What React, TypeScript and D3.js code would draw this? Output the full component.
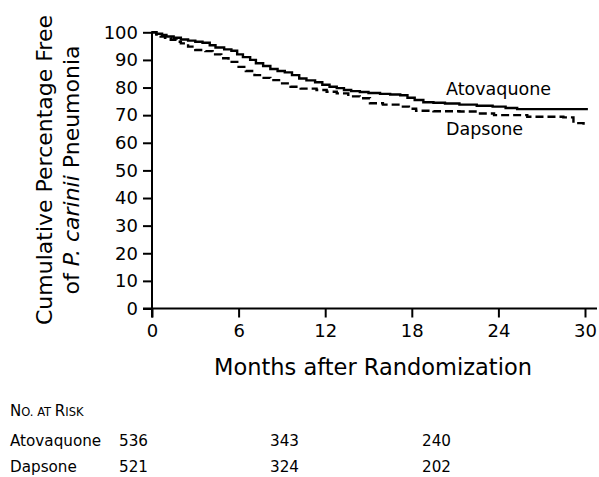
import React, { useEffect, useRef } from "react";
import * as d3 from "d3";

const atovMonths = [0, 0.3, 0.7, 1.0, 1.5, 2.0, 2.5, 3.0, 3.5, 4.0, 4.4, 5.0, 5.5, 5.9, 6.3, 6.8, 7.2, 7.7, 8.2, 8.7, 9.2, 9.7, 10.2, 10.7, 11.3, 11.8, 12.3, 12.8, 13.3, 13.8, 14.4, 15.0, 15.8, 16.5, 17.2, 17.7, 18.2, 18.8, 19.5, 20.3, 21.3, 22.5, 23.6, 24.5, 25.3, 30.2];
const atovValues = [100, 99.5, 99.0, 98.5, 98.0, 97.4, 97.0, 96.6, 96.2, 95.3, 94.5, 93.8, 93.3, 92.0, 91.0, 90.0, 88.8, 87.8, 86.7, 86.0, 85.5, 84.5, 83.3, 82.6, 81.9, 81.0, 80.3, 79.8, 79.1, 78.7, 78.4, 78.0, 77.7, 77.5, 77.2, 76.3, 75.5, 74.7, 74.5, 74.2, 73.8, 73.4, 73.1, 72.6, 72.2, 72.2];

const dapMonths = [0, 0.3, 0.6, 0.9, 1.3, 1.7, 2.0, 2.5, 3.0, 3.7, 4.2, 4.8, 5.3, 6.0, 6.5, 7.1, 7.6, 8.2, 8.9, 9.6, 10.3, 11.4, 12.1, 12.8, 13.6, 14.4, 15.1, 16.0, 17.2, 17.8, 18.3, 19.5, 21.3, 22.5, 23.7, 26.0, 28.5, 29.2, 29.9];
const dapValues = [100, 99.2, 98.5, 98.0, 97.3, 96.6, 96.0, 94.8, 93.6, 93.2, 92.0, 90.6, 89.3, 87.5, 86.0, 84.5, 83.5, 82.7, 81.5, 80.3, 79.6, 79.1, 78.5, 77.9, 76.8, 76.1, 74.3, 73.8, 73.1, 72.3, 71.6, 71.4, 71.3, 70.6, 70.0, 69.4, 69.2, 67.1, 66.4];

const xTicks = [0, 6, 12, 18, 24, 30];
const yTicks = [0, 10, 20, 30, 40, 50, 60, 70, 80, 90, 100];

const riskGroups = ["Atovaquone", "Dapsone"];
const riskAtov = [536, 343, 240];
const riskDap = [521, 324, 202];

const FONT = "'DejaVu Sans', sans-serif";

export default function App() {
  const ref = useRef<SVGSVGElement | null>(null);

  useEffect(() => {
    const svg = d3.select(ref.current);
    svg.selectAll("*").remove();

    const x = d3.scaleLinear().domain([0, 30]).range([152, 585]);
    const y = d3.scaleLinear().domain([0, 100]).range([308.5, 32.3]);

    // axes
    const gx = svg.append("g").attr("transform", `translate(0,${y(0)})`);
    gx.call(d3.axisBottom(x).tickValues(xTicks).tickSize(9).tickSizeOuter(0).tickPadding(7));
    gx.select(".domain").remove();
    gx.selectAll(".tick line").attr("stroke", "#000").attr("stroke-width", 2);
    gx.selectAll(".tick text").attr("font-family", FONT).attr("font-size", 18).attr("fill", "#000");

    const gy = svg.append("g").attr("transform", `translate(${x(0)},0)`);
    gy.call(d3.axisLeft(y).tickValues(yTicks).tickSize(9).tickSizeOuter(0).tickPadding(5));
    gy.select(".domain").remove();
    gy.selectAll(".tick line").attr("stroke", "#000").attr("stroke-width", 2);
    gy.selectAll(".tick text").attr("font-family", FONT).attr("font-size", 18).attr("fill", "#000");

    svg.append("line").attr("x1", x(0) - 9).attr("x2", 597).attr("y1", y(0)).attr("y2", y(0)).attr("stroke", "#000").attr("stroke-width", 2);
    svg.append("line").attr("x1", x(0)).attr("x2", x(0)).attr("y1", y(100) - 1).attr("y2", y(0) + 9).attr("stroke", "#000").attr("stroke-width", 2);

    const line = d3.line<[number, number]>().x((d) => x(d[0])).y((d) => y(d[1])).curve(d3.curveStepAfter);
    const atov: [number, number][] = atovMonths.map((m, i) => [m, atovValues[i]]);
    const dap: [number, number][] = dapMonths.map((m, i) => [m, dapValues[i]]);

    svg.append("path").attr("d", line(dap)).attr("fill", "none").attr("stroke", "#000").attr("stroke-width", 2.4).attr("stroke-dasharray", "8,4");
    svg.append("path").attr("d", line(atov)).attr("fill", "none").attr("stroke", "#000").attr("stroke-width", 2.4);

    // curve labels
    svg.append("text").attr("x", 446).attr("y", 95).attr("font-family", FONT).attr("font-size", 17.5).text("Atovaquone");
    svg.append("text").attr("x", 446).attr("y", 135).attr("font-family", FONT).attr("font-size", 17.5).text("Dapsone");

    // x title
    svg.append("text").attr("x", 373).attr("y", 375).attr("text-anchor", "middle").attr("font-family", FONT).attr("font-size", 22.5).text("Months after Randomization");

    // y title
    const yt = svg.append("g").attr("transform", "translate(0,170) rotate(-90)");
    yt.append("text").attr("x", 0).attr("y", 52).attr("text-anchor", "middle").attr("font-family", FONT).attr("font-size", 22).text("Cumulative Percentage Free");
    const t2 = yt.append("text").attr("x", 0).attr("y", 79).attr("text-anchor", "middle").attr("font-family", FONT).attr("font-size", 22);
    t2.append("tspan").text("of ");
    t2.append("tspan").attr("font-style", "italic").text("P. carinii");
    t2.append("tspan").text(" Pneumonia");

    // risk table
    const h = svg.append("text").attr("x", 10).attr("y", 416).attr("font-family", FONT).attr("font-size", 15);
    h.append("tspan").text("N");
    h.append("tspan").attr("font-size", 11.5).text("O. AT ");
    h.append("tspan").text("R");
    h.append("tspan").attr("font-size", 11.5).text("ISK");

    const rows = [riskAtov, riskDap];
    const rowY = [446, 472];
    const colX = [119, 270, 422];
    rows.forEach((vals, r) => {
      svg.append("text").attr("x", 10).attr("y", rowY[r]).attr("font-family", FONT).attr("font-size", 15.2).text(riskGroups[r]);
      vals.forEach((v, c) => {
        svg.append("text").attr("x", colX[c]).attr("y", rowY[r]).attr("font-family", FONT).attr("font-size", 15.2).text(String(v));
      });
    });
  }, []);

  return (
    <svg ref={ref} width={599} height={477} style={{ position: "absolute", left: 0, top: 0, background: "#fff" }} />
  );
}
